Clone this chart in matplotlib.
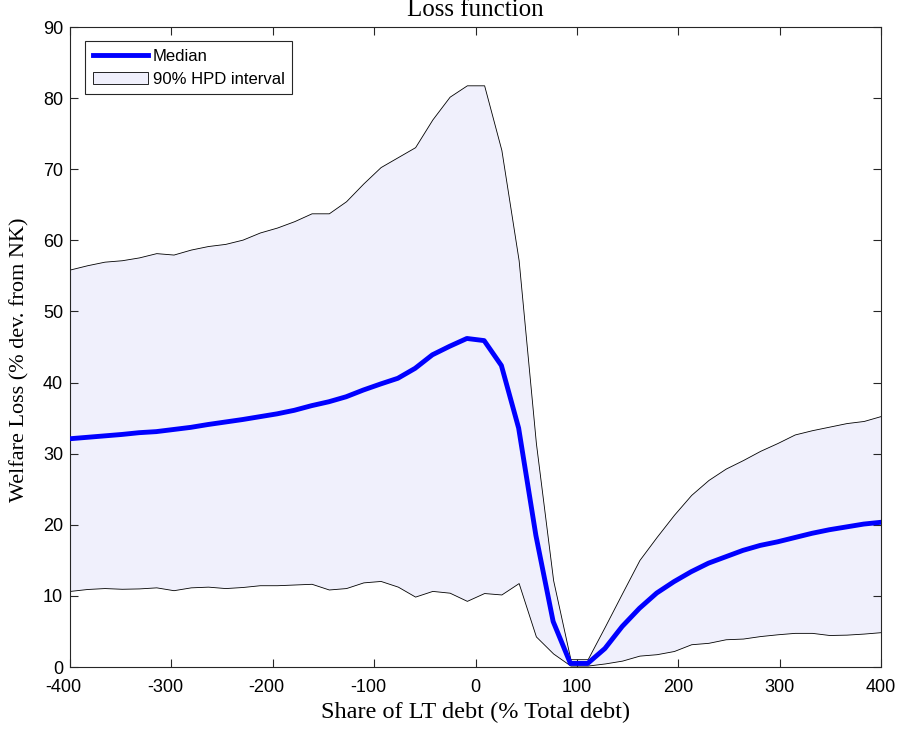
import numpy as np
import matplotlib
matplotlib.use("Agg")
import matplotlib.pyplot as plt

plt.rcParams["axes.unicode_minus"] = False

share = np.linspace(-400, 400, 48)

median = [32.1, 32.3, 32.5, 32.7, 32.95, 33.1, 33.4, 33.7, 34.1, 34.45,
          34.8, 35.2, 35.6, 36.1, 36.75, 37.3, 38.0, 38.95, 39.8, 40.6,
          42.0, 43.9, 45.1, 46.2, 45.9, 42.4, 33.6, 18.5, 6.4, 0.5,
          0.5, 2.6, 5.7, 8.25, 10.4, 12.0, 13.4, 14.6, 15.5, 16.4,
          17.1, 17.6, 18.2, 18.8, 19.3, 19.7, 20.1, 20.35]

upper = [55.9, 56.5, 57.0, 57.2, 57.6, 58.2, 58.0, 58.7, 59.2, 59.5,
         60.1, 61.1, 61.8, 62.7, 63.8, 63.8, 65.5, 68.0, 70.3, 71.7,
         73.1, 77.0, 80.2, 81.8, 81.8, 72.7, 57.2, 31.5, 12.2, 1.1,
         1.1, 5.7, 10.4, 15.05, 18.3, 21.4, 24.2, 26.3, 27.9, 29.1,
         30.4, 31.5, 32.7, 33.3, 33.8, 34.3, 34.6, 35.3]

lower = [10.7, 10.97, 11.1, 11.0, 11.05, 11.2, 10.8, 11.2, 11.3, 11.1,
         11.25, 11.5, 11.5, 11.6, 11.7, 10.9, 11.1, 11.9, 12.1, 11.3,
         9.9, 10.7, 10.45, 9.3, 10.4, 10.2, 11.8, 4.3, 1.9, 0.2,
         0.2, 0.5, 0.9, 1.6, 1.8, 2.25, 3.2, 3.4, 3.9, 4.0,
         4.35, 4.6, 4.8, 4.8, 4.5, 4.55, 4.7, 4.9]

xticks = list(range(-400, 401, 100))
yticks = list(range(0, 91, 10))

sans = ["Liberation Sans", "DejaVu Sans"]
serif = ["Liberation Serif", "DejaVu Serif"]

fig = plt.figure(figsize=(8.99, 7.29), dpi=100)
ax = fig.add_axes([70/899, 1-667/729, (881-70)/899, (667-27)/729])

band = ax.fill_between(share, lower, upper, facecolor=(0.94, 0.94, 0.99),
                       edgecolor="black", linewidth=0.6, label="90% HPD interval", zorder=1)
line, = ax.plot(share, median, color=(0, 0, 1), linewidth=3.5, label="Median", zorder=3)

ax.set_xlim(-400, 400)
ax.set_ylim(0, 90)
ax.set_xticks(xticks)
ax.set_xticklabels([])
ax.set_yticks(yticks)
ax.tick_params(direction="in", top=True, right=True, length=6, width=0.8,
               color="#262626", labelsize=13, labelcolor="black")
ax.tick_params(axis="y", pad=5)
for lab in ax.get_yticklabels():
    lab.set_family(sans)
for s in ax.spines.values():
    s.set_color("#262626")
    s.set_linewidth(0.8)

# x tick labels, MATLAB style (minus sign hangs to the left of the centred number)
for t in xticks:
    ax.annotate(f"{t:d}", xy=(t, 0), xycoords=ax.get_xaxis_transform(),
                xytext=(-4.5 if t < 0 else 0, -14.5), textcoords="offset points",
                ha="center", va="center", family=sans, fontsize=13, annotation_clip=False)

fig.text(475.5/899, 1-10/729, "Loss function", family=serif, fontsize=18,
         ha="center", va="center")
fig.text(475.5/899, 1-712/729, "Share of LT debt (% Total debt)", family=serif,
         fontsize=17.5, ha="center", va="center")
fig.text(20/899, 1-360/729, "Welfare Loss (% dev. from NK)", family=serif,
         fontsize=16, ha="center", va="center", rotation=90)

leg = ax.legend([line, band], ["Median", "90% HPD interval"], loc="upper left",
                bbox_to_anchor=(0.0185, 0.978), prop={"family": sans, "size": 12},
                fancybox=False, edgecolor="#262626", framealpha=1, handlelength=3.3,
                borderpad=0.45, labelspacing=0.5, handletextpad=0.3, borderaxespad=0)
leg.get_frame().set_linewidth(0.8)

fig.savefig("out.png", dpi=100)
